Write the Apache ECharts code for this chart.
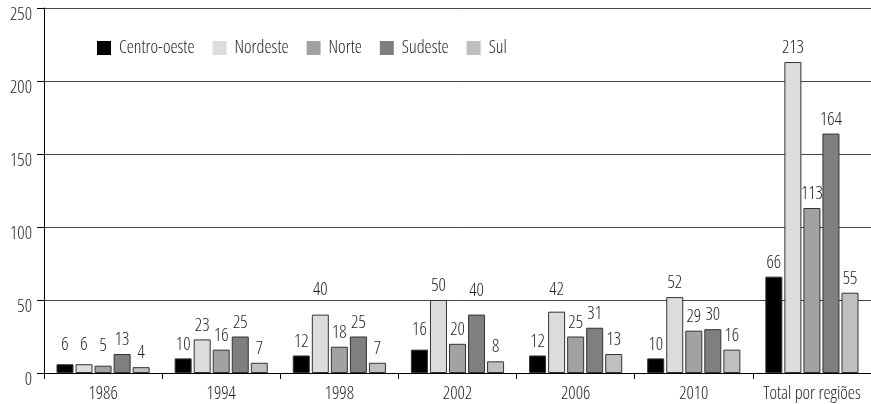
<!DOCTYPE html>
<html>
<head>
<meta charset="utf-8">
<script src="https://cdn.jsdelivr.net/npm/echarts@6/dist/echarts.min.js"></script>
<style>
html,body{margin:0;padding:0;background:#fff;}
#chart{width:871px;height:404px;}
</style>
</head>
<body>
<div id="chart"></div>
<script>
const categories = ['1986', '1994', '1998', '2002', '2006', '2010', 'Total por regiões'];
const seriesNames = ['Centro-oeste', 'Nordeste', 'Norte', 'Sudeste', 'Sul'];
const centroOeste = [6, 10, 12, 16, 12, 10, 66];
const nordeste = [6, 23, 40, 50, 42, 52, 213];
const norte = [5, 16, 18, 20, 25, 29, 113];
const sudeste = [13, 25, 25, 40, 31, 30, 164];
const sul = [4, 7, 7, 8, 13, 16, 55];
const yMin = 0, yMax = 250, yStep = 50;

const FONT = "'Open Sans', 'Roboto Condensed', sans-serif";
const FSTYLE = 'condensed';
const FSIZE = 18;
const colors = ['#000000', '#dcdcdc', '#a2a2a2', '#7f7f7f', '#bfbfbf'];
const values = [centroOeste, nordeste, norte, sudeste, sul];
// extra label lift (px) for a few labels that sit higher in the reference
const liftExtra = {'Nordeste|1998': 11, 'Sudeste|2002': 10, 'Nordeste|2006': 8, 'Centro-oeste|1986': 5, 'Nordeste|1986': 5, 'Norte|1986': 6, 'Centro-oeste|2002': 6};

const txt = {fontFamily: FONT, fontStyle: FSTYLE, fontWeight: 300, fontSize: FSIZE, color: '#1e1e1e'};

const series = seriesNames.map((name, i) => ({
  name: name,
  type: 'bar',
  barWidth: 17,
  barGap: '12%',
  itemStyle: {color: colors[i], borderColor: '#333', borderWidth: 1},
  data: values[i].map((v, j) => {
    const extra = liftExtra[name + '|' + categories[j]] || 0;
    return {value: v, label: {distance: 5 + extra}};
  }),
  label: Object.assign({show: true, position: 'top', distance: 5}, txt)
}));

const chart = echarts.init(document.getElementById('chart'));
chart.setOption({
  animation: false,
  backgroundColor: '#fff',
  legend: {
    left: 97,
    top: 39,
    padding: 0,
    itemWidth: 14,
    itemHeight: 14,
    itemGap: 18,
    icon: 'rect',
    itemStyle: {borderWidth: 0},
    textStyle: Object.assign({padding: [0, 0, 0, 3]}, txt),
    data: seriesNames
  },
  grid: {left: 44, right: -6, top: 8, bottom: 31, containLabel: false},
  xAxis: {
    type: 'category',
    data: categories,
    axisLine: {lineStyle: {color: '#000', width: 1}},
    axisTick: {show: true, length: 6, lineStyle: {color: '#000'}},
    axisLabel: Object.assign({interval: 0, margin: 12}, txt)
  },
  yAxis: {
    type: 'value',
    min: yMin,
    max: yMax,
    interval: yStep,
    axisLine: {show: true, lineStyle: {color: '#000', width: 1}},
    axisTick: {show: true, length: 7, lineStyle: {color: '#000'}},
    axisLabel: Object.assign({margin: 12, verticalAlign: 'top', lineHeight: 14}, txt),
    splitLine: {show: true, lineStyle: {color: '#444', width: 1}}
  },
  series: series
});
</script>
</body>
</html>
